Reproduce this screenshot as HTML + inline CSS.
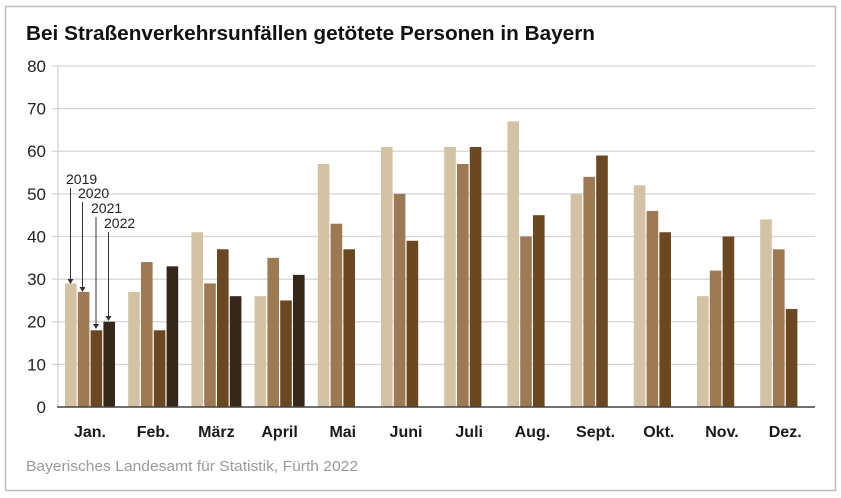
<!DOCTYPE html>
<html><head><meta charset="utf-8"><style>
html,body{margin:0;padding:0;background:#fff}
svg{display:block;font-family:"Liberation Sans",Arial,sans-serif}
</style></head><body>
<svg width="841" height="498" viewBox="0 0 841 498" xmlns="http://www.w3.org/2000/svg">
<rect x="0" y="0" width="841" height="498" fill="#fff"/>
<rect x="5.5" y="6.5" width="830" height="484" fill="none" stroke="#bdbdbd" stroke-width="1.5"/>
<text x="26" y="40" font-size="20" font-weight="bold" fill="#111" textLength="569" lengthAdjust="spacingAndGlyphs">Bei Straßenverkehrsunfällen getötete Personen in Bayern</text>
<g stroke="#d4d4d4" stroke-width="1.3">
<line x1="52" y1="66" x2="815" y2="66"/>
<line x1="52" y1="108.6" x2="815" y2="108.6"/>
<line x1="52" y1="151.25" x2="815" y2="151.25"/>
<line x1="52" y1="193.9" x2="815" y2="193.9"/>
<line x1="52" y1="236.5" x2="815" y2="236.5"/>
<line x1="52" y1="279.1" x2="815" y2="279.1"/>
<line x1="52" y1="321.75" x2="815" y2="321.75"/>
<line x1="52" y1="364.4" x2="815" y2="364.4"/>
<line x1="58" y1="66" x2="58" y2="407"/>
</g>
<g font-size="17" fill="#222" text-anchor="end">
<text x="46" y="72">80</text><text x="46" y="114.6">70</text><text x="46" y="157.2">60</text><text x="46" y="199.9">50</text><text x="46" y="242.5">40</text><text x="46" y="285.1">30</text><text x="46" y="327.7">20</text><text x="46" y="370.4">10</text><text x="46" y="413">0</text>
</g>
<g id="bars"></g>
<line x1="57" y1="407" x2="815" y2="407" stroke="#444" stroke-width="1.5"/>
<g font-size="16" font-weight="bold" fill="#1a1a1a" text-anchor="middle" id="mlabels"></g>
<g font-size="14" fill="#222">
<text x="66" y="184">2019</text><text x="78" y="198">2020</text><text x="91" y="213">2021</text><text x="104" y="228">2022</text>
</g>
<g stroke="#333" stroke-width="1">
<line x1="70.5" y1="188" x2="70.5" y2="280"/><line x1="82.5" y1="202" x2="82.5" y2="288"/><line x1="96" y1="217" x2="96" y2="325"/><line x1="108.5" y1="232" x2="108.5" y2="317"/>
</g>
<g fill="#333">
<polygon points="67.5,279 73.5,279 70.5,284"/><polygon points="79.5,287 85.5,287 82.5,292"/><polygon points="93,324 99,324 96,329"/><polygon points="105.5,316 111.5,316 108.5,321"/>
</g>
<text x="26" y="471" font-size="15" fill="#9a9a9a" textLength="332" lengthAdjust="spacingAndGlyphs">Bayerisches Landesamt für Statistik, Fürth 2022</text>
<script>
var d=[[29,27,18,20],[27,34,18,33],[41,29,37,26],[26,35,25,31],[57,43,37],[61,50,39],[61,57,61],[67,40,45],[50,54,59],[52,46,41],[26,32,40],[44,37,23]];
var m=["Jan.","Feb.","März","April","Mai","Juni","Juli","Aug.","Sept.","Okt.","Nov.","Dez."];
var c=["#d3c2a4","#9d7a53","#6b4722","#35281a"];
var g=document.getElementById("bars"),L=document.getElementById("mlabels"),ns="http://www.w3.org/2000/svg";
d.forEach(function(v,i){var x0=65+i*63.2;v.forEach(function(val,j){var r=document.createElementNS(ns,"rect");var h=val*4.2625;r.setAttribute("x",x0+j*12.8);r.setAttribute("y",407-h);r.setAttribute("width",11.6);r.setAttribute("height",h);r.setAttribute("fill",c[j]);g.appendChild(r);});
var t=document.createElementNS(ns,"text");t.setAttribute("x",x0+25);t.setAttribute("y",437);t.textContent=m[i];L.appendChild(t);});
</script>
</svg>
</body></html>
